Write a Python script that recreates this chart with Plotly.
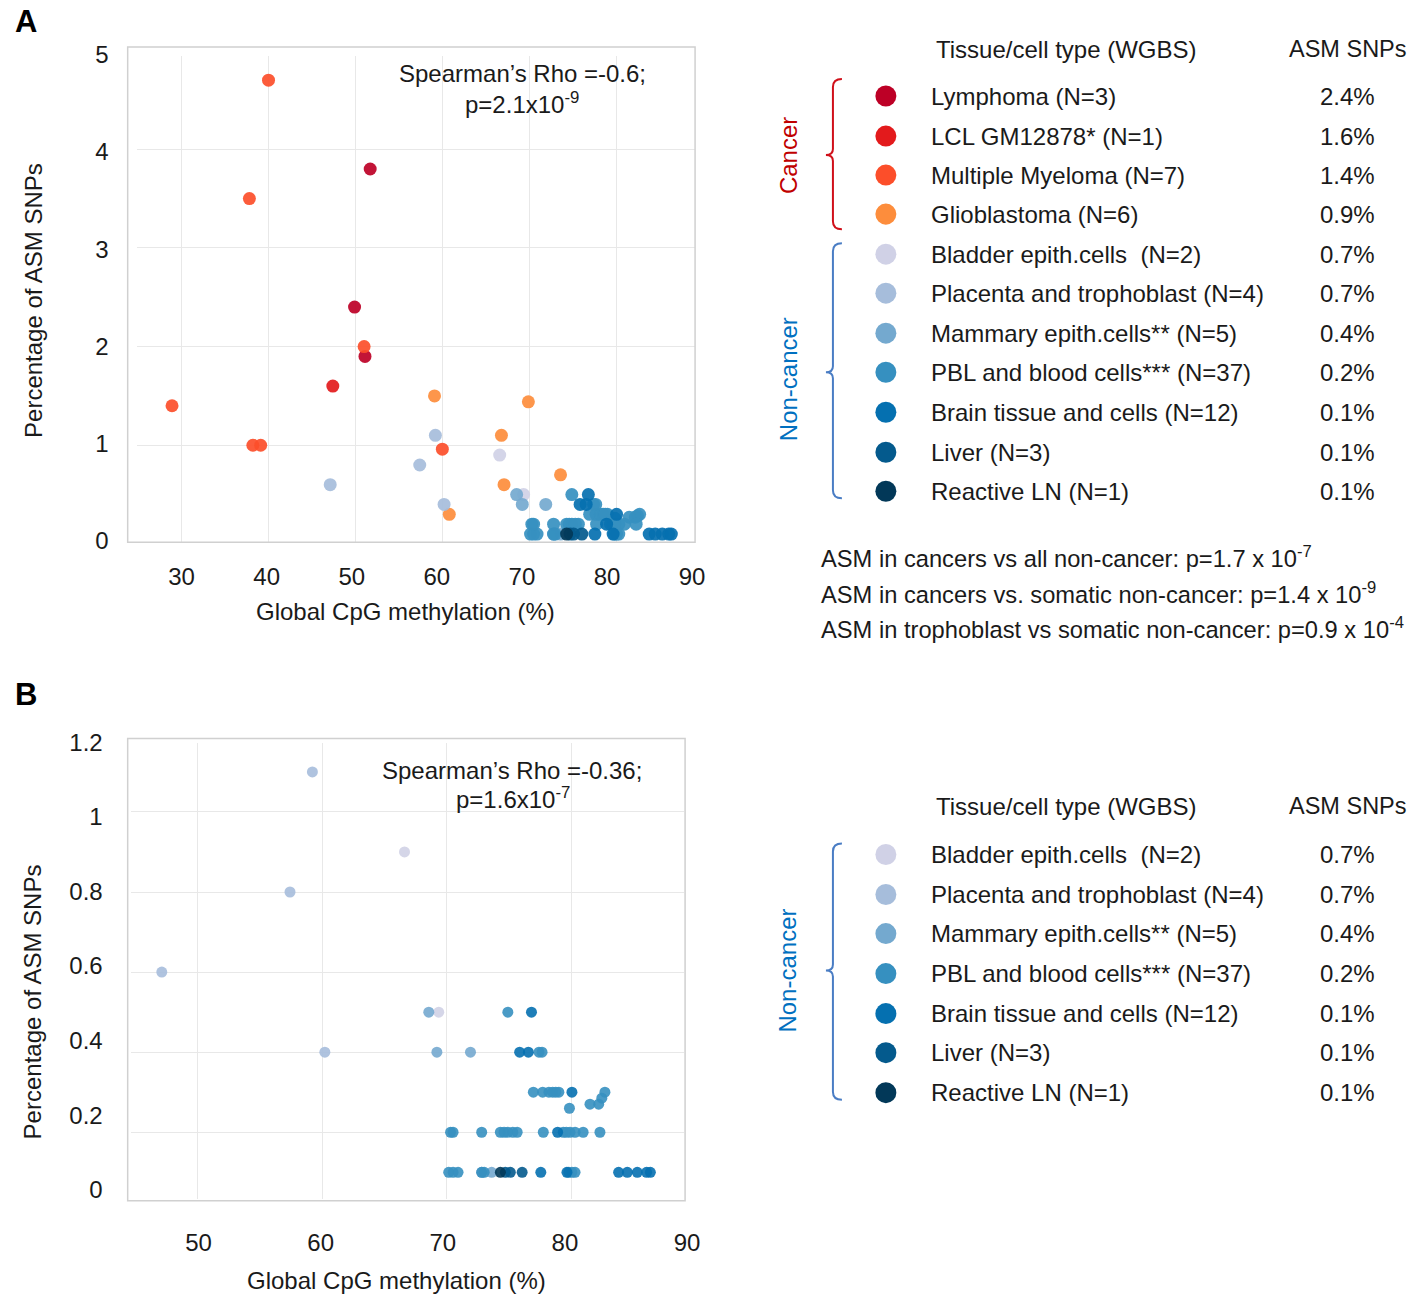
import plotly.graph_objects as go

W, H = 1418, 1296

# ---------------- data ----------------
categories = [
    "Lymphoma (N=3)", "LCL GM12878* (N=1)", "Multiple Myeloma (N=7)", "Glioblastoma (N=6)",
    "Bladder epith.cells  (N=2)", "Placenta and trophoblast (N=4)", "Mammary epith.cells** (N=5)",
    "PBL and blood cells*** (N=37)", "Brain tissue and cells (N=12)", "Liver (N=3)", "Reactive LN (N=1)",
]
asm_pct = ["2.4%", "1.6%", "1.4%", "0.9%", "0.7%", "0.7%", "0.4%", "0.2%", "0.1%", "0.1%", "0.1%"]
colors = ["#bd0026", "#e31a1c", "#fc4e2a", "#fd8d3c", "#d0d1e6", "#a6bddb", "#74a9cf",
          "#3690c0", "#0570b0", "#045a8d", "#023858"]

lymphoma_x = [51.7, 49.9, 51.1]
lymphoma_y = [3.8, 2.4, 1.9]
lcl_x = [47.4]
lcl_y = [1.6]
mm_x = [40.0, 37.8, 51.0, 28.9, 38.2, 39.1, 60.0]
mm_y = [4.7, 3.5, 2.0, 1.4, 1.0, 1.0, 0.96]
gbm_x = [59.1, 60.8, 66.8, 67.1, 73.6, 69.9]
gbm_y = [1.5, 0.3, 1.1, 0.6, 0.7, 1.44]

bladder_x = [66.6, 69.35]
bladder_y = [0.90, 0.50]
placenta_x = [47.1, 57.4, 59.2, 60.2]
placenta_y = [0.60, 0.80, 1.10, 0.40]
mammary_x = [68.55, 69.2, 71.9, 73.6, 72.8]
mammary_y = [0.50, 0.40, 0.40, 0.10, 0.10]
pbl_x = [74.9, 77.65, 76.95, 77.7, 78.5, 79.0, 82.7, 82.45, 82.2, 81.5, 79.85,
         70.3, 72.8, 74.3, 74.9, 75.65, 77.75, 79.35, 79.9, 80.95, 82.3,
         70.15, 70.9, 72.8, 80.05,
         74.6, 75.3, 79.6, 80.3, 73.0, 79.8, 80.3, 78.2, 78.75, 77.4, 70.5, 70.5]
pbl_y = [0.5, 0.4, 0.3, 0.3, 0.3, 0.3, 0.3, 0.285, 0.27, 0.27, 0.26,
         0.2, 0.2, 0.2, 0.2, 0.2, 0.2, 0.2, 0.2, 0.2, 0.2,
         0.1, 0.1, 0.1, 0.1,
         0.2, 0.2, 0.2, 0.2, 0.1, 0.1, 0.1, 0.3, 0.3, 0.4, 0.1, 0.2]
brain_x = [76.8, 75.85, 76.55, 80.05, 78.9, 77.55, 79.65, 83.8, 84.5, 85.3, 86.05, 86.35]
brain_y = [0.5, 0.4, 0.4, 0.3, 0.2, 0.1, 0.1, 0.1, 0.1, 0.1, 0.1, 0.1]
liver_x = [74.7, 75.1, 76.05]
liver_y = [0.1, 0.1, 0.1]
ln_x = [74.3]
ln_y = [0.1]

series_x = [lymphoma_x, lcl_x, mm_x, gbm_x, bladder_x, placenta_x, mammary_x, pbl_x, brain_x, liver_x, ln_x]
series_y = [lymphoma_y, lcl_y, mm_y, gbm_y, bladder_y, placenta_y, mammary_y, pbl_y, brain_y, liver_y, ln_y]

xticks_a = [30, 40, 50, 60, 70, 80, 90]
yticks_a = [0, 1, 2, 3, 4, 5]
xticks_b = [50, 60, 70, 80, 90]
yticks_b = [0, 0.2, 0.4, 0.6, 0.8, 1.0, 1.2]
yticks_b_text = ["0", "0.2", "0.4", "0.6", "0.8", "1", "1.2"]

# ---------------- layout helpers (target pixel -> paper fraction) ----------------
OX, SX = 7.2, 0.994
OY, SY = 18.0, 0.9855


def px(x):
    return (x - OX) / (SX * W)


def py(y):
    return 1 - (y - OY) / (SY * H)


FONT = "Liberation Sans, Arial, sans-serif"
TXT = "#1a1a1a"
GRID = "#e8e8e8"

fig = go.Figure()

# panel A: all 11 groups; panel B: non-cancer groups
for i in range(11):
    fig.add_trace(go.Scatter(
        x=series_x[i], y=series_y[i], mode="markers", xaxis="x", yaxis="y",
        marker=dict(color=colors[i], size=13, opacity=0.92, line=dict(width=0)),
        showlegend=False, hoverinfo="x+y", name=categories[i]))
for i in range(4, 11):
    fig.add_trace(go.Scatter(
        x=series_x[i], y=series_y[i], mode="markers", xaxis="x2", yaxis="y2",
        marker=dict(color=colors[i], size=11, opacity=0.9, line=dict(width=0)),
        showlegend=False, hoverinfo="x+y", name=categories[i]))

# empty traces for the tick-label axes
fig.add_trace(go.Scatter(x=[], y=[], xaxis="x3", yaxis="y3", showlegend=False))
fig.add_trace(go.Scatter(x=[], y=[], xaxis="x4", yaxis="y4", showlegend=False))

grid_axis = dict(showticklabels=False, ticks="", showgrid=True, gridcolor=GRID, gridwidth=1,
                 zeroline=False, showline=False, fixedrange=True)
label_axis = dict(showgrid=False, zeroline=False, showline=False, ticks="",
                  tickfont=dict(family=FONT, size=24, color=TXT), fixedrange=True)

fig.update_layout(
    width=W, height=H, autosize=False,
    margin=dict(l=0, r=0, t=0, b=0),
    paper_bgcolor="white", plot_bgcolor="rgba(0,0,0,0)",
    # panel A data axes
    xaxis=dict(domain=[px(136), px(695)], range=[24.83, 89.08], tickvals=xticks_a, anchor="y", **grid_axis),
    yaxis=dict(domain=[py(542), py(56)], range=[0.016, 4.945], tickvals=yticks_a, anchor="x", **grid_axis),
    # panel B data axes
    xaxis2=dict(domain=[px(130), px(684)], range=[44.6, 89.06], tickvals=xticks_b, anchor="y2", **grid_axis),
    yaxis2=dict(domain=[py(1198), py(743)], range=[0.034, 1.171], tickvals=yticks_b, anchor="x2", **grid_axis),
    # panel A tick-label axes
    xaxis3=dict(domain=[px(136), px(695)], range=[24.72, 90.35], tickvals=xticks_a, anchor="y3",
                ticklabelstandoff=15, **label_axis),
    yaxis3=dict(domain=[py(545), py(50)], range=[-0.0515, 5.0515], tickvals=yticks_a, anchor="x3",
                ticklabelstandoff=27, **label_axis),
    # panel B tick-label axes
    xaxis4=dict(domain=[px(130), px(690)], range=[44.44, 90.245], tickvals=xticks_b, anchor="y4",
                ticklabelstandoff=25, **label_axis),
    yaxis4=dict(domain=[py(1200), py(738)], range=[-0.0295, 1.2107], tickvals=yticks_b,
                ticktext=yticks_b_text, anchor="x4", ticklabelstandoff=27, **label_axis),
)

shapes = []
# chart frames
shapes.append(dict(type="rect", xref="paper", yref="paper", x0=px(127), x1=px(695), y0=py(542), y1=py(47),
                   line=dict(color="#d0d0d0", width=1.5), layer="above"))
shapes.append(dict(type="rect", xref="paper", yref="paper", x0=px(127), x1=px(685), y0=py(1200), y1=py(738),
                   line=dict(color="#d0d0d0", width=1.5), layer="above"))


def brace(xv, top, bottom, mid, color):
    xr = xv + 9
    xl = xv - 7
    pts = [
        f"M {px(xr)},{py(top)}",
        f"Q {px(xv)},{py(top)} {px(xv)},{py(top + 8)}",
        f"L {px(xv)},{py(mid - 6)}",
        f"Q {px(xv)},{py(mid)} {px(xl)},{py(mid)}",
        f"Q {px(xv)},{py(mid)} {px(xv)},{py(mid + 6)}",
        f"L {px(xv)},{py(bottom - 8)}",
        f"Q {px(xv)},{py(bottom)} {px(xr)},{py(bottom)}",
    ]
    return dict(type="path", xref="paper", yref="paper", path=" ".join(pts),
                line=dict(color=color, width=2))


RED = "#c00000"
BLUE = "#0070c0"
shapes.append(brace(833, 79, 229, 155, "#d0101a"))
shapes.append(brace(833, 243, 498, 372, "#4a7dc4"))
shapes.append(brace(833, 843, 1099, 970, "#4a7dc4"))

# legend markers
rows_a = [96, 136, 175, 214, 254, 293, 333, 372, 412, 452, 491]
rows_b = [854, 894, 933, 973, 1013, 1052, 1092]
r = 10.5
for i, yy in enumerate(rows_a):
    shapes.append(dict(type="circle", xref="paper", yref="paper", x0=px(886 - r), x1=px(886 + r),
                       y0=py(yy + r), y1=py(yy - r), fillcolor=colors[i], line=dict(width=0)))
for j, yy in enumerate(rows_b):
    i = j + 4
    shapes.append(dict(type="circle", xref="paper", yref="paper", x0=px(886 - r), x1=px(886 + r),
                       y0=py(yy + r), y1=py(yy - r), fillcolor=colors[i], line=dict(width=0)))

fig.update_layout(shapes=shapes)

ann = []


def text(x, y, s, size=24, color=TXT, xanchor="left", yanchor="middle", angle=0, bold=False, height=None):
    a = dict(x=px(x), y=py(y), xref="paper", yref="paper", text=(f"<b>{s}</b>" if bold else s),
             showarrow=False, xanchor=xanchor, yanchor=yanchor, textangle=angle,
             font=dict(family=FONT, size=size, color=color))
    if height is not None:
        a["height"] = height
    ann.append(a)


# panel letters
text(12, 21, "A", size=31, color="#000", xanchor="left", bold=True, height=34)
text(12, 694, "B", size=31, color="#000", xanchor="left", bold=True, height=34)

# axis titles
text(32, 300, "Percentage of ASM SNPs", xanchor="center", angle=-90)
text(405, 611, "Global CpG methylation (%)", xanchor="center")
text(32, 1001, "Percentage of ASM SNPs", xanchor="center", angle=-90)
text(396, 1280, "Global CpG methylation (%)", xanchor="center")

# correlation annotations
text(522, 73, "Spearman’s Rho =-0.6;", xanchor="center")
text(522, 103, "p=2.1x10<sup>-9</sup>", xanchor="center")
text(512, 770, "Spearman’s Rho =-0.36;", xanchor="center")
text(513, 798, "p=1.6x10<sup>-7</sup>", xanchor="center")

# legend headers
text(934, 49, "Tissue/cell type (WGBS)")
text(1288, 49, "ASM SNPs", size=23.5)
text(934, 806, "Tissue/cell type (WGBS)")
text(1288, 806, "ASM SNPs", size=23.5)

for i, yy in enumerate(rows_a):
    text(929, yy, categories[i])
    text(1319, yy, asm_pct[i])
for j, yy in enumerate(rows_b):
    text(929, yy, categories[j + 4])
    text(1319, yy, asm_pct[j + 4])

# group labels
text(788, 155, "Cancer", color=RED, xanchor="center", angle=-90)
text(788, 379, "Non-cancer", color=BLUE, xanchor="center", angle=-90)
text(788, 970, "Non-cancer", color=BLUE, xanchor="center", angle=-90)

# p-value notes
text(819, 557, "ASM in cancers vs all non-cancer: p=1.7 x 10<sup>-7</sup>", size=23.7)
text(819, 593, "ASM in cancers vs. somatic non-cancer: p=1.4 x 10<sup>-9</sup>", size=23.7)
text(819, 628, "ASM in trophoblast vs somatic non-cancer: p=0.9 x 10<sup>-4</sup>", size=23.7)

fig.update_layout(annotations=ann)

fig.write_html("out.html")
